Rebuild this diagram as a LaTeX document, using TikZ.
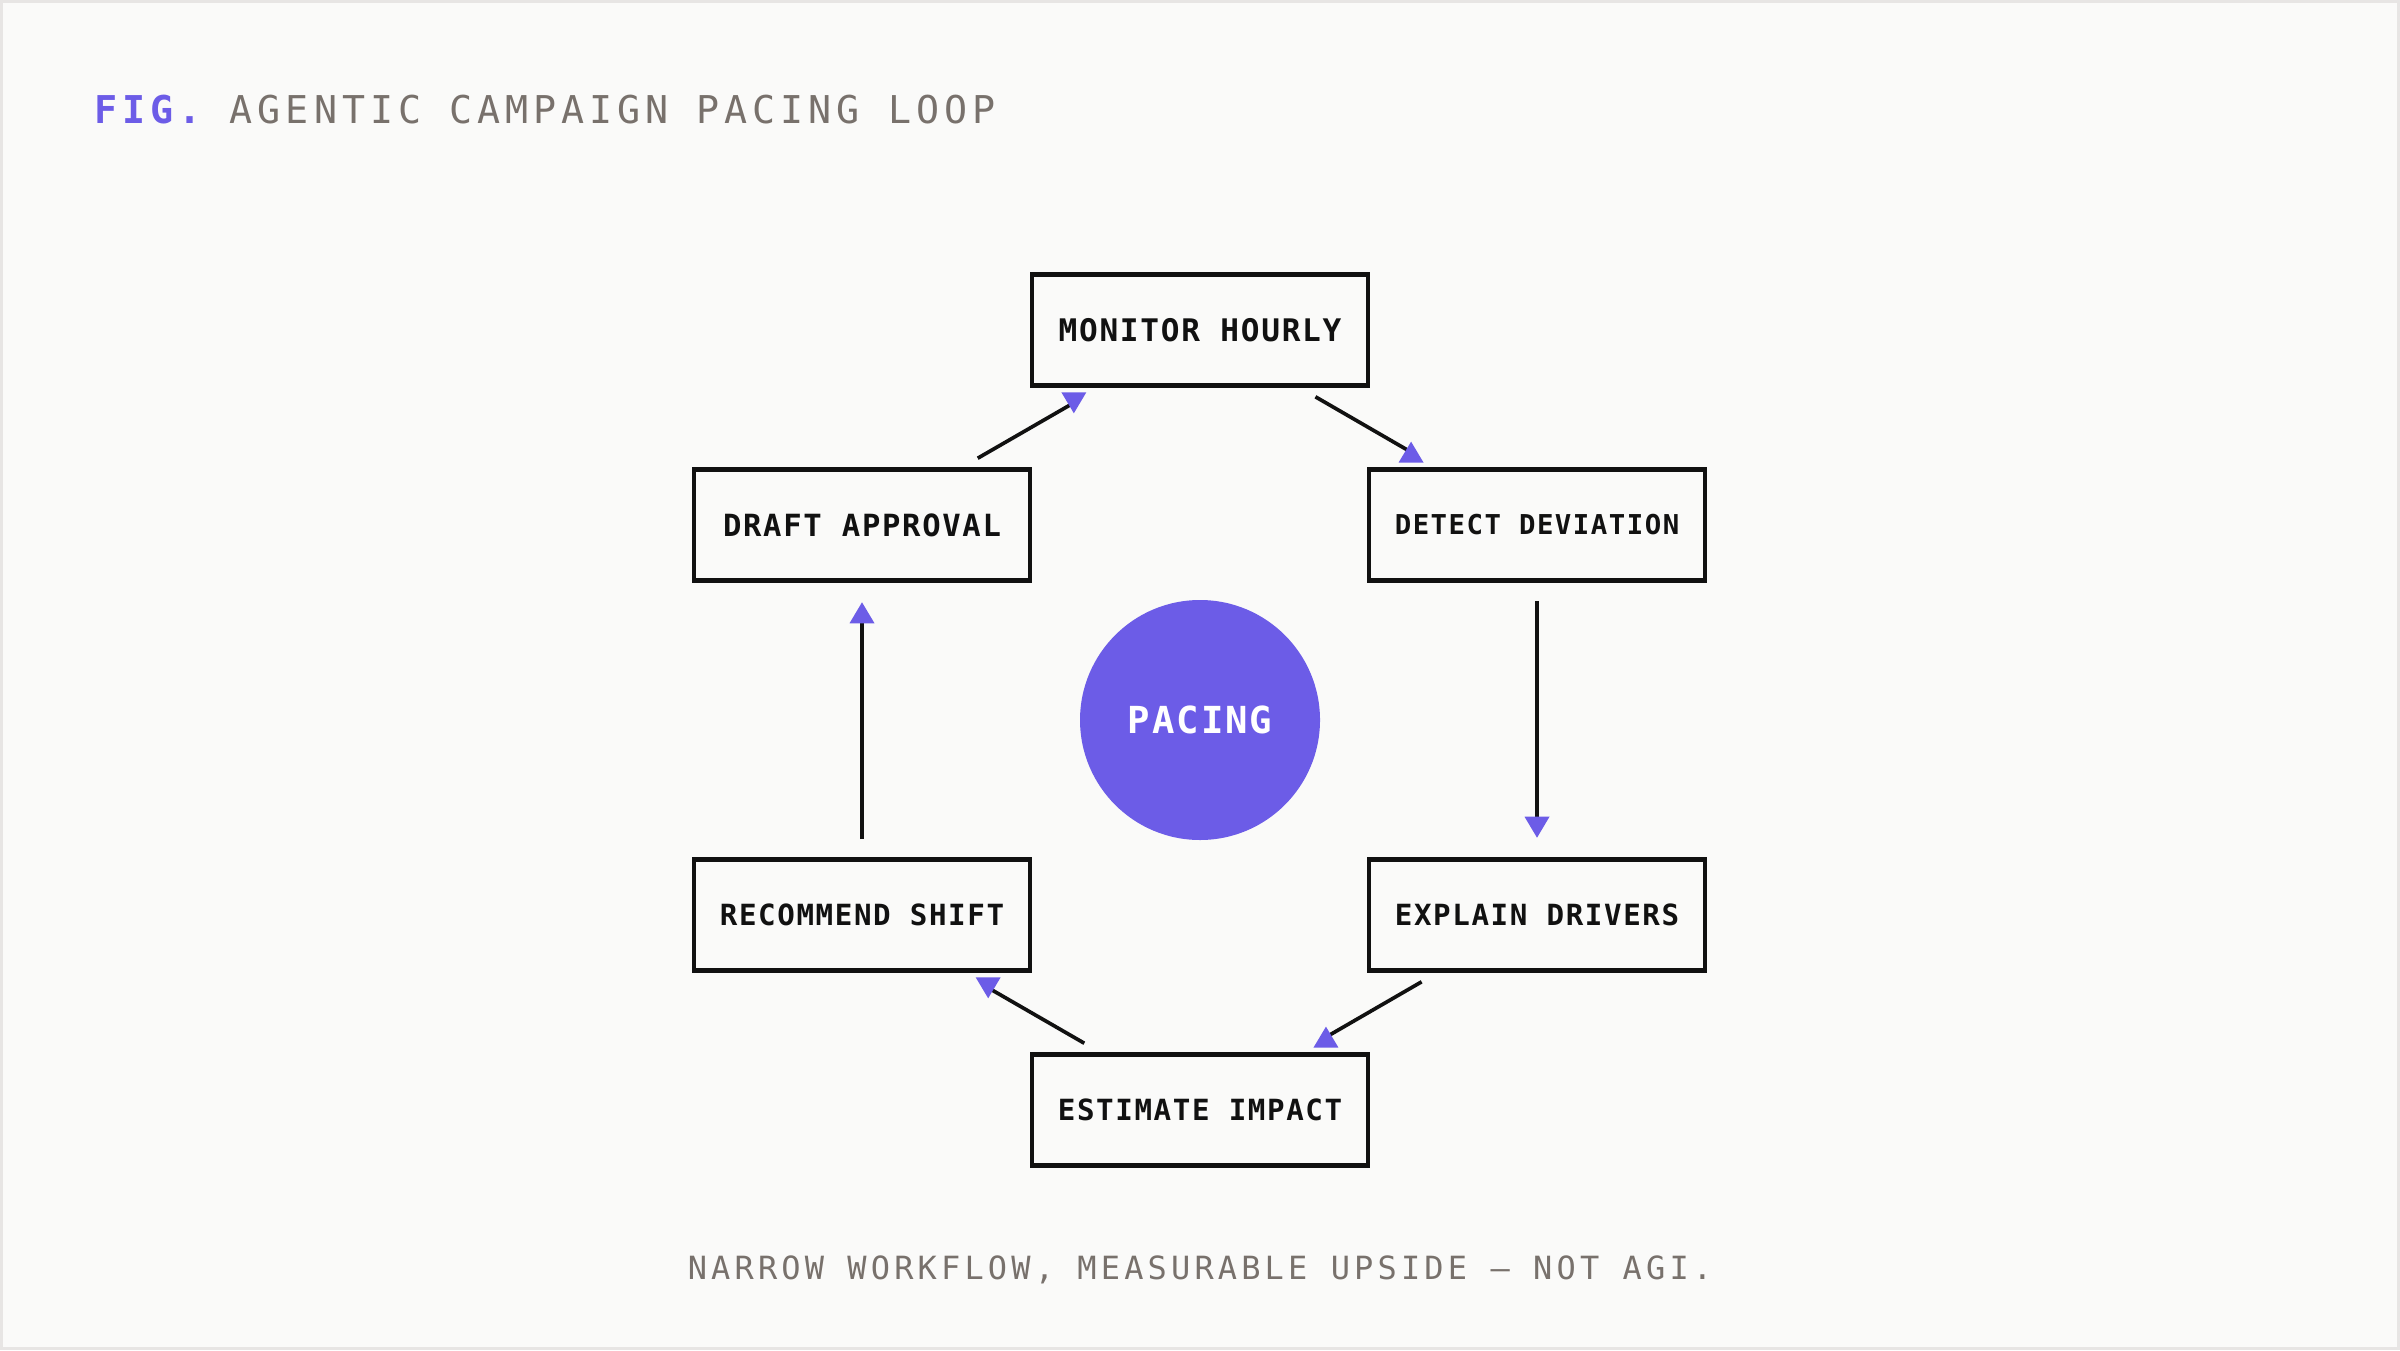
\documentclass[tikz,border=0pt]{standalone}
\usepackage{fontspec}
\usepackage{xcolor}
\usepackage{tikz}
\usetikzlibrary{decorations.markings}

\definecolor{paper}{HTML}{FAFAF9}
\definecolor{frame}{HTML}{E7E5E4}
\definecolor{ink}{HTML}{111111}
\definecolor{accent}{HTML}{6C5CE7}
\definecolor{muted}{HTML}{78716C}

\newfontfamily\capsfont{DejaVu Sans Mono}[LetterSpace=13]
\newfontfamily\boxfont{DejaVu Sans Mono}[LetterSpace=5.5]
\newcommand\boxsize[1]{\boxfont\bfseries\fontsize{#1}{#1}\selectfont}

\begin{document}
\begin{tikzpicture}[
    stage/.style={draw=ink, line width=1.3pt, fill=paper, minimum width=3.36cm, minimum height=1.11cm, inner sep=0pt, text=ink},
    hub/.style={circle, fill=accent, minimum size=2.4cm, inner sep=0pt, text=white, font=\boxsize{10.6}},
    flow/.style={draw=ink, line width=1.05pt, shorten <=0.18cm, shorten >=0.3cm},
    headup/.style={flow, postaction={decorate, decoration={markings, mark=at position -0.3cm with {\pgftransformresetnontranslations
      \fill[accent, shorten <=0pt, shorten >=0pt] (-0.125,-0.105) -- (0.125,-0.105) -- (0,0.105) -- cycle;}}}},
    headdown/.style={flow, postaction={decorate, decoration={markings, mark=at position -0.3cm with {\pgftransformresetnontranslations
      \fill[accent, shorten <=0pt, shorten >=0pt] (-0.125,0.105) -- (0.125,0.105) -- (0,-0.105) -- cycle;}}}},
    caption/.style={inner sep=0pt, text=muted},
  ]
    \useasboundingbox (0,0) rectangle (24,13.5);
    \fill[paper] (0,0) rectangle (24,13.5);
    \draw[frame, line width=0.03cm] (0.015,0.015) rectangle (23.985,13.485);

    % ── Header and footnote ──
    \node[caption, anchor=base west, font=\capsfont\fontsize{10.9}{10.9}\selectfont] (title) at (0.94, 12.26)
      {\textcolor{accent}{\bfseries FIG.} AGENTIC CAMPAIGN PACING LOOP};
    \node[caption, anchor=base, font=\capsfont\fontsize{9.1}{9.1}\selectfont] (note) at (12, 0.71)
      {NARROW WORKFLOW, MEASURABLE UPSIDE — NOT AGI.};

    % ── Loop stages ──
    \node[hub] (pacing) at (12, 6.3) {PACING};
    \node[stage, font=\boxsize{8.85}] (monitor) at (12, 10.2) {MONITOR HOURLY};
    \node[stage, font=\boxsize{7.78}] (detect) at (15.37, 8.25) {DETECT DEVIATION};
    \node[stage, font=\boxsize{8.3}] (explain) at (15.37, 4.35) {EXPLAIN DRIVERS};
    \node[stage, font=\boxsize{8.3}] (estimate) at (12, 2.4) {ESTIMATE IMPACT};
    \node[stage, font=\boxsize{8.3}] (recommend) at (8.62, 4.35) {RECOMMEND SHIFT};
    \node[stage, font=\boxsize{8.7}] (draft) at (8.62, 8.25) {DRAFT APPROVAL};

    % ── Connectors (clockwise) ──
    \draw[headup] (monitor) -- (detect);
    \draw[headdown] (detect) -- (explain);
    \draw[headup] (explain) -- (estimate);
    \draw[headdown] (estimate) -- (recommend);
    \draw[headup] (recommend) -- (draft);
    \draw[headdown] (draft) -- (monitor);
  \end{tikzpicture}
\end{document}
